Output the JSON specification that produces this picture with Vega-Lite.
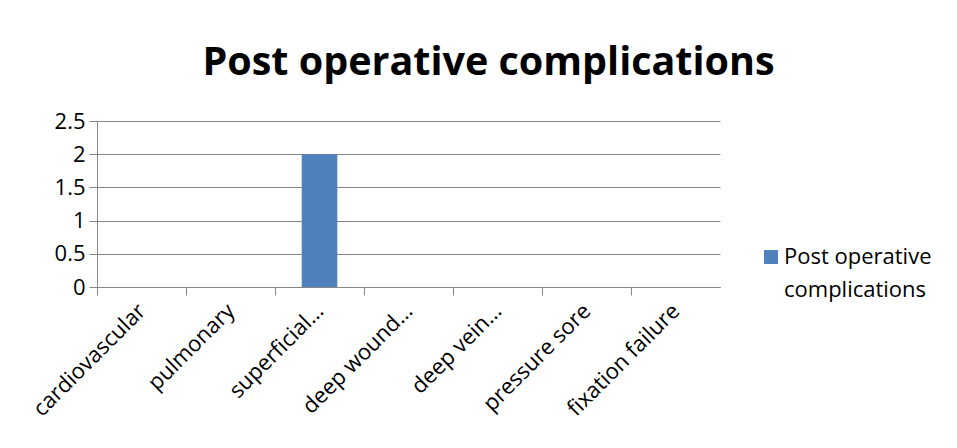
{
  "$schema": "https://vega.github.io/schema/vega-lite/v6.json",
  "autosize": "none",
  "width": 623,
  "height": 166,
  "padding": {"left": 97, "top": 121, "right": 237, "bottom": 161},
  "background": "white",
  "title": {
    "text": "Post operative complications",
    "font": "Open Sans",
    "fontSize": 39.5,
    "fontWeight": "bold",
    "color": "black",
    "anchor": "middle",
    "lineHeight": 40,
    "dx": 80,
    "offset": 27
  },
  "data": {
    "values": [
      {"category": "cardiovascular", "value": 0, "series": "Post operative complications"},
      {"category": "pulmonary", "value": 0, "series": "Post operative complications"},
      {"category": "superficial…", "value": 2, "series": "Post operative complications"},
      {"category": "deep wound…", "value": 0, "series": "Post operative complications"},
      {"category": "deep vein…", "value": 0, "series": "Post operative complications"},
      {"category": "pressure  sore", "value": 0, "series": "Post operative complications"},
      {"category": "fixation failure", "value": 0, "series": "Post operative complications"}
    ]
  },
  "mark": {"type": "bar", "color": "#4F81BD"},
  "encoding": {
    "x": {
      "field": "category",
      "type": "nominal",
      "sort": null,
      "scale": {"paddingInner": 0.6, "paddingOuter": 0.3},
      "axis": {
        "title": null,
        "labelAngle": -45,
        "labelAlign": "right",
        "labelBaseline": "middle",
        "labelFont": "Open Sans",
        "labelFontSize": 22,
        "labelColor": "black",
        "labelPadding": 12,
        "labelOffset": 44.5,
        "tickOffset": -44.5,
        "tickSize": 8,
        "tickColor": "#868686",
        "domainColor": "#868686",
        "labelLimit": 0
      }
    },
    "y": {
      "field": "value",
      "type": "quantitative",
      "scale": {"domain": [0, 2.5], "nice": false},
      "axis": {
        "title": null,
        "values": [0, 0.5, 1, 1.5, 2, 2.5],
        "format": "~g",
        "labelFont": "Open Sans",
        "labelFontSize": 22,
        "labelColor": "black",
        "labelPadding": 4,
        "tickSize": 8,
        "tickColor": "#868686",
        "domainColor": "#868686",
        "gridColor": "#868686",
        "gridOpacity": 1,
        "grid": true
      }
    },
    "color": {
      "field": "series",
      "type": "nominal",
      "scale": {"range": ["#4F81BD"]},
      "legend": {
        "title": null,
        "orient": "none",
        "legendX": 663,
        "legendY": 125,
        "symbolType": "square",
        "symbolSize": 196,
        "symbolStrokeWidth": 0,
        "labelOffset": 2,
        "labelFont": "Open Sans",
        "labelFontSize": 22,
        "labelColor": "black",
        "labelExpr": "['Post operative', 'complications']",
        "labelLimit": 0
      }
    }
  },
  "config": {
    "view": {"stroke": null},
    "style": {"guide-label": {"lineHeight": 33}},
    "axis": {"gridWidth": 1, "domainWidth": 1, "tickWidth": 1}
  }
}
